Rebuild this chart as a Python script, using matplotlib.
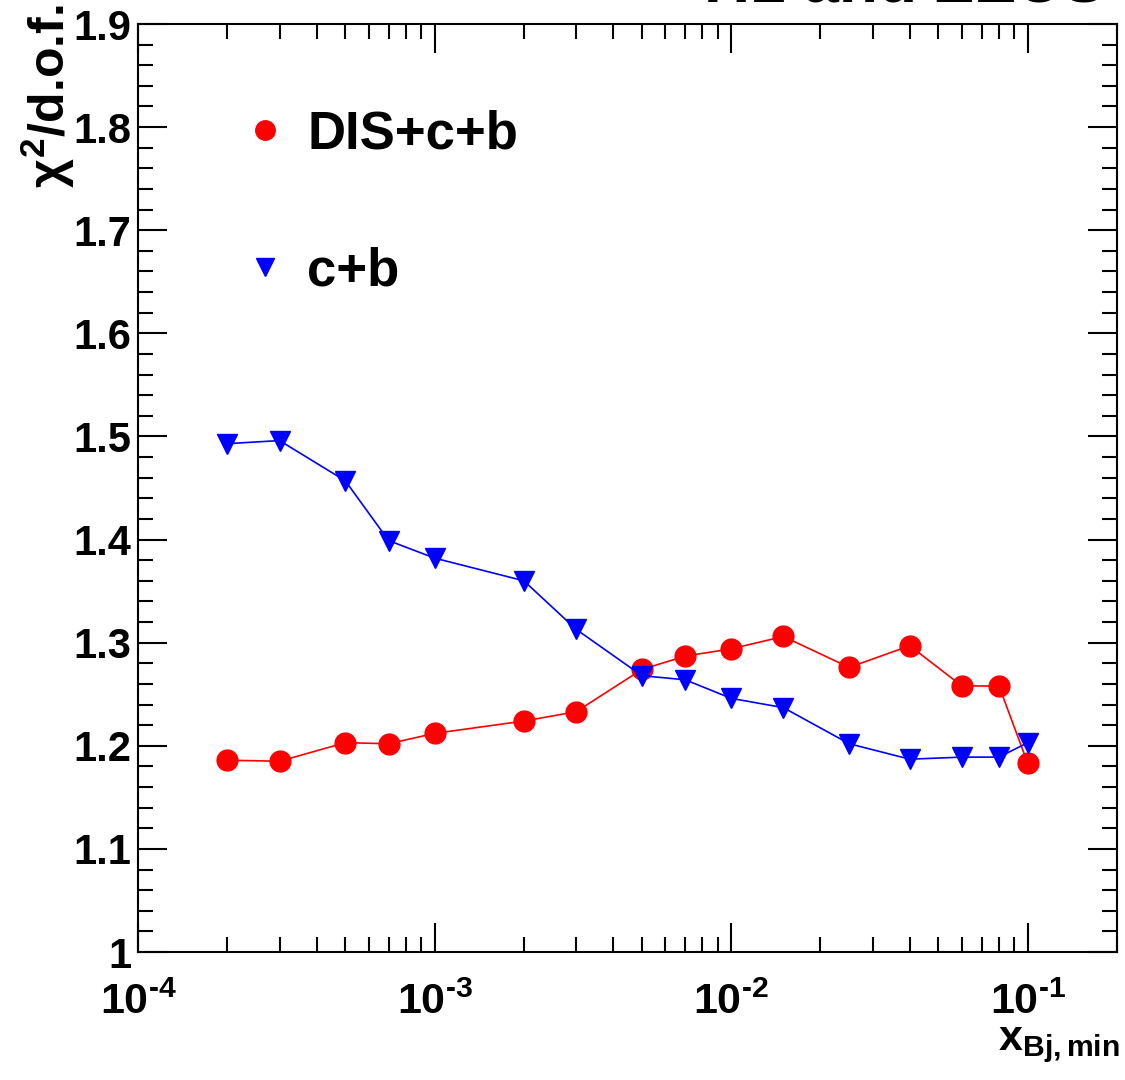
# chi2/dof vs minimum x_Bj cut, H1 and ZEUS combined fits

import matplotlib.pyplot as plt
from matplotlib.ticker import MultipleLocator, LogLocator, NullFormatter, FuncFormatter
import math

plt.rcParams['font.family'] = ['Liberation Sans', 'DejaVu Sans']
plt.rcParams['font.weight'] = 'bold'
plt.rcParams['mathtext.fontset'] = 'custom'
plt.rcParams['mathtext.rm'] = 'Liberation Sans:bold'
plt.rcParams['mathtext.it'] = 'Liberation Sans:bold'
plt.rcParams['mathtext.bf'] = 'Liberation Sans:bold'

xMin = [2e-4, 3e-4, 5e-4, 7e-4, 1e-3, 2e-3, 3e-3, 5e-3, 7e-3,
        1e-2, 1.5e-2, 2.5e-2, 4e-2, 6e-2, 8e-2, 1e-1]
disVals = [1.186, 1.185, 1.203, 1.202, 1.212, 1.224, 1.233, 1.274, 1.287,
           1.294, 1.306, 1.276, 1.297, 1.258, 1.258, 1.183]
cbVals = [1.493, 1.496, 1.457, 1.399, 1.382, 1.360, 1.313, 1.268, 1.264,
          1.246, 1.237, 1.202, 1.187, 1.189, 1.189, 1.203]

fig = plt.figure(figsize=(11.25, 10.8), dpi=100)
ax = fig.add_axes([138 / 1125, 1 - 952 / 1080, (1117 - 138) / 1125, (952 - 24) / 1080])

ax.plot(xMin, disVals, '-', color='red', lw=1.2, marker='o', ms=15, mec='red')
ax.plot(xMin, cbVals, '-', color='blue', lw=1.2, marker='v', ms=15, mec='blue')

ax.set_xscale('log')
ax.set_xlim(1e-4, 0.2)
ax.set_ylim(1.0, 1.9)

def powLabel(v, p):
    e = int(round(math.log10(v)))
    return r'$10^{\text{%d}}$' % e

ax.yaxis.set_major_locator(MultipleLocator(0.1))
ax.yaxis.set_minor_locator(MultipleLocator(0.02))
ax.yaxis.set_major_formatter(FuncFormatter(lambda v, p: '%g' % round(v, 2)))
ax.xaxis.set_major_locator(LogLocator(base=10, numticks=10))
ax.xaxis.set_minor_locator(LogLocator(base=10, subs=range(2, 10), numticks=20))
ax.xaxis.set_minor_formatter(NullFormatter())
ax.xaxis.set_major_formatter(FuncFormatter(powLabel))

ax.tick_params(which='both', direction='in', top=True, right=True, width=1.5)
ax.tick_params(which='major', length=21)
ax.tick_params(which='minor', length=10.5)
ax.tick_params(axis='x', pad=22, labelsize=31)
ax.tick_params(axis='y', pad=5, labelsize=30)
for s in ax.spines.values():
    s.set_linewidth(1.5)

# legend drawn by hand like the ROOT TLegend
ax.plot([0.130], [0.886], 'o', color='red', ms=14, transform=ax.transAxes)
ax.text(0.173, 0.881, 'DIS+c+b', fontsize=38, fontweight='bold', va='center', transform=ax.transAxes)
ax.plot([0.130], [0.738], 'v', color='blue', ms=13, transform=ax.transAxes)
ax.text(0.173, 0.733, 'c+b', fontsize=38, fontweight='bold', va='center', transform=ax.transAxes)

fig.text(0.043, 1 - 4 / 1080, r'$\chi^2$/d.o.f.', rotation=90, fontsize=36, fontweight='bold',
         ha='center', va='top')
fig.text(1 - 5 / 1125, 30 / 1080, r'x$_{\mathregular{Bj,min}}$', fontsize=31, fontweight='bold',
         ha='right', va='baseline')
fig.text(1 - 20 / 1125, 1 - 1.5 / 1080, 'H1 and ZEUS', fontsize=46, fontweight='bold',
         ha='right', va='baseline')

plt.savefig('out.png')
